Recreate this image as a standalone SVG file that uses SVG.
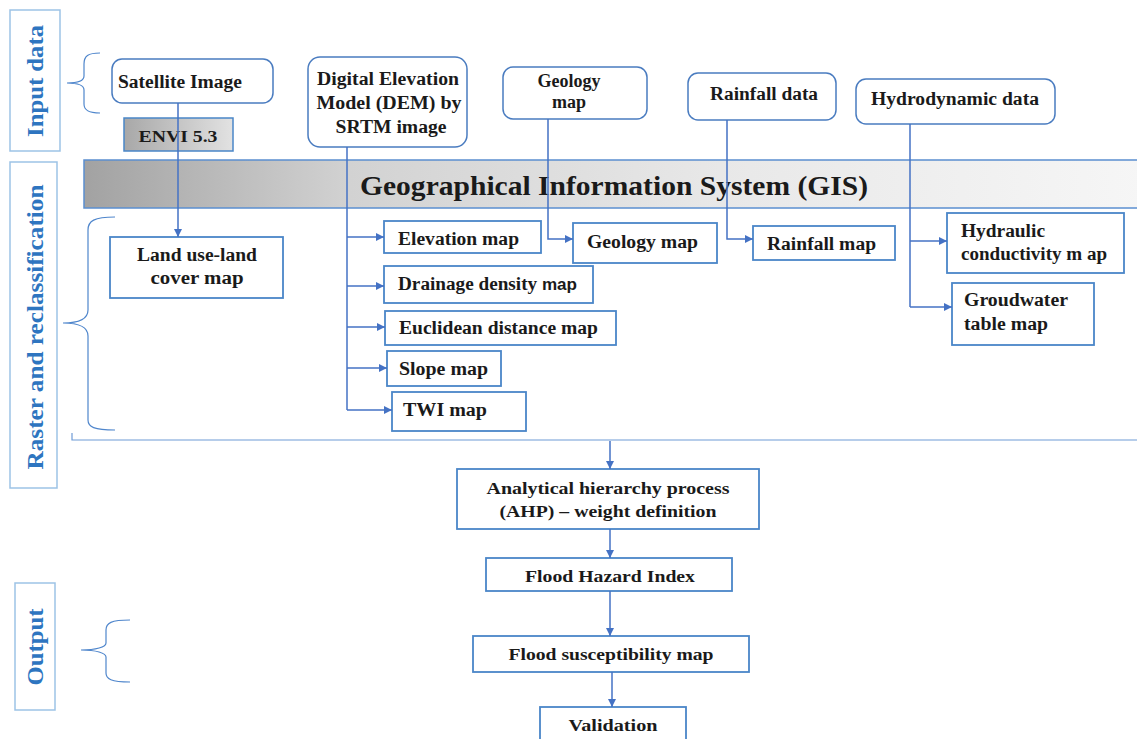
<svg xmlns="http://www.w3.org/2000/svg" width="1137" height="739" viewBox="0 0 1137 739">
<style>
.t{font-family:"Liberation Serif","Times New Roman",serif;font-weight:bold;font-size:18px;fill:#1a1a1a}
.b{font-size:17px}
.side{font-family:"Liberation Serif","Times New Roman",serif;font-weight:bold;font-size:24px;fill:#2e75c0}
.sb{fill:none;stroke:#9dc3e6;stroke-width:1.5}
.rb{fill:#fff;stroke:#4a7cc0;stroke-width:1.5}
.box{fill:#fff;stroke:#4a86c8;stroke-width:1.8}
.br{fill:none;stroke:#4f86cc;stroke-width:1.2}
.c{fill:none;stroke:#4472c4;stroke-width:1.5}
.ca{fill:none;stroke:#4472c4;stroke-width:1.5;marker-end:url(#ah)}
</style>
<defs>
<marker id="ah" viewBox="0 0 10 10" refX="10" refY="5" markerWidth="8" markerHeight="8" markerUnits="userSpaceOnUse" orient="auto">
<path d="M0,0 L10,5 L0,10 z" fill="#4472c4"/>
</marker>
<linearGradient id="gis" x1="0" y1="0" x2="1" y2="0">
<stop offset="0" stop-color="#a2a2a2"/>
<stop offset="0.25" stop-color="#d2d2d2"/>
<stop offset="0.6" stop-color="#e8e8e8"/>
<stop offset="1" stop-color="#f6f6f6"/>
</linearGradient>
<linearGradient id="envi" x1="0" y1="0" x2="1" y2="0">
<stop offset="0" stop-color="#a8a8a8"/>
<stop offset="1" stop-color="#e2e2e2"/>
</linearGradient>
</defs>
<rect width="1137" height="739" fill="#fff"/>

<g id="side-labels">
<rect class="sb" x="10" y="10" width="50" height="141"/>
<text class="side" transform="translate(43,81) rotate(-90)" text-anchor="middle" textLength="112" lengthAdjust="spacingAndGlyphs">Input data</text>
<rect class="sb" x="10" y="162" width="47" height="326"/>
<text class="side" transform="translate(43,327) rotate(-90)" text-anchor="middle" textLength="285" lengthAdjust="spacingAndGlyphs">Raster and reclassification</text>
<rect class="sb" x="15" y="583" width="40" height="127"/>
<text class="side" transform="translate(43,647) rotate(-90)" text-anchor="middle" textLength="77" lengthAdjust="spacingAndGlyphs">Output</text>
<path class="br" d="M100,53 C88,53 84,56 84,64 L84,76 C84,81 78,83 67,83 C78,83 84,85 84,90 L84,104 C84,110 88,113 100,113"/>
<path class="br" d="M115,217 C94,217 88,221 88,230 L88,310 C88,318 80,323 63,323 C80,323 88,328 88,336 L88,420 C88,427 94,430 115,430"/>
<path class="br" d="M130,620 C111,620 106,623 106,630 L106,643 C106,647 96,650 81,650 C96,650 106,653 106,657 L106,673 C106,679 111,682 130,682"/>
</g>

<g id="gis-band">
<rect x="84" y="160" width="1060" height="48" fill="url(#gis)" stroke="#5b8fd0" stroke-width="1.5"/>
<text class="t" x="614" y="195" text-anchor="middle" style="font-size:28px" textLength="508" lengthAdjust="spacingAndGlyphs">Geographical Information System (GIS)</text>
</g>

<g id="node-satellite">
<rect class="rb" x="112" y="59" width="161" height="44" rx="10"/>
<text class="t" x="180" y="88" text-anchor="middle" textLength="124" lengthAdjust="spacingAndGlyphs">Satellite Image</text>
</g>
<g id="node-envi">
<rect x="124" y="118" width="109" height="33" fill="url(#envi)" stroke="#4a86c8" stroke-width="1.5"/>
<text class="t b" x="178" y="142" text-anchor="middle" textLength="79" lengthAdjust="spacingAndGlyphs">ENVI 5.3</text>
</g>
<g id="node-dem">
<rect class="rb" x="308" y="57" width="159" height="90" rx="12"/>
<text class="t" x="388" y="85" text-anchor="middle" textLength="142" lengthAdjust="spacingAndGlyphs">Digital Elevation</text>
<text class="t" x="389" y="109" text-anchor="middle" textLength="145" lengthAdjust="spacingAndGlyphs">Model (DEM) by</text>
<text class="t" x="391" y="133" text-anchor="middle" textLength="111" lengthAdjust="spacingAndGlyphs">SRTM image</text>
</g>
<g id="node-geology-in">
<rect class="rb" x="503" y="67" width="144" height="52" rx="10"/>
<text class="t" x="569" y="87" text-anchor="middle">Geology</text>
<text class="t" x="569" y="108" text-anchor="middle">map</text>
</g>
<g id="node-rainfall-in">
<rect class="rb" x="688" y="73" width="148" height="47" rx="10"/>
<text class="t" x="764" y="100" text-anchor="middle" textLength="108" lengthAdjust="spacingAndGlyphs">Rainfall data</text>
</g>
<g id="node-hydro-in">
<rect class="rb" x="856" y="79" width="199" height="45" rx="10"/>
<text class="t" x="955" y="105" text-anchor="middle" textLength="168" lengthAdjust="spacingAndGlyphs">Hydrodynamic data</text>
</g>

<g id="node-landuse">
<rect class="box" x="110" y="237" width="173" height="61"/>
<text class="t" x="197" y="261" text-anchor="middle" textLength="120" lengthAdjust="spacingAndGlyphs">Land use-land</text>
<text class="t" x="197" y="284" text-anchor="middle" textLength="93" lengthAdjust="spacingAndGlyphs">cover  map</text>
</g>
<g id="node-elevation">
<rect class="box" x="384" y="221" width="157" height="32"/>
<text class="t" x="398" y="245" textLength="121" lengthAdjust="spacingAndGlyphs">Elevation map</text>
</g>
<g id="node-drainage">
<rect class="box" x="384" y="266" width="209" height="37"/>
<text class="t" x="398" y="290" textLength="179" lengthAdjust="spacingAndGlyphs">Drainage density <tspan style="font-family:'Liberation Sans',Arial,sans-serif;font-size:16px">map</tspan></text>
</g>
<g id="node-euclidean">
<rect class="box" x="385" y="311" width="231" height="34"/>
<text class="t" x="399" y="334" textLength="199" lengthAdjust="spacingAndGlyphs">Euclidean distance map</text>
</g>
<g id="node-slope">
<rect class="box" x="387" y="351" width="114" height="35"/>
<text class="t" x="399" y="375" textLength="89" lengthAdjust="spacingAndGlyphs">Slope map</text>
</g>
<g id="node-twi">
<rect class="box" x="392" y="392" width="134" height="39"/>
<text class="t" x="403" y="416" textLength="84" lengthAdjust="spacingAndGlyphs">TWI map</text>
</g>
<g id="node-geology">
<rect class="box" x="573" y="223" width="144" height="40"/>
<text class="t" x="587" y="248" textLength="111" lengthAdjust="spacingAndGlyphs">Geology map</text>
</g>
<g id="node-rainfall">
<rect class="box" x="753" y="226" width="142" height="34"/>
<text class="t" x="767" y="250" textLength="109" lengthAdjust="spacingAndGlyphs">Rainfall map</text>
</g>
<g id="node-hydraulic">
<rect class="box" x="947" y="213" width="177" height="60"/>
<text class="t" x="961" y="237" textLength="84" lengthAdjust="spacingAndGlyphs">Hydraulic</text>
<text class="t" x="961" y="260" textLength="146" lengthAdjust="spacingAndGlyphs">conductivity m ap</text>
</g>
<g id="node-groundwater">
<rect class="box" x="952" y="283" width="142" height="62"/>
<text class="t" x="964" y="306" textLength="104" lengthAdjust="spacingAndGlyphs">Groudwater</text>
<text class="t" x="964" y="330" textLength="84" lengthAdjust="spacingAndGlyphs">table map</text>
</g>

<g id="node-ahp">
<rect class="box" x="457" y="469" width="302" height="60"/>
<text class="t b" x="608" y="494" text-anchor="middle" textLength="243" lengthAdjust="spacingAndGlyphs">Analytical hierarchy process</text>
<text class="t b" x="608" y="517" text-anchor="middle" textLength="217" lengthAdjust="spacingAndGlyphs">(AHP) – weight definition</text>
</g>
<g id="node-fhi">
<rect class="box" x="486" y="558" width="246" height="33"/>
<text class="t b" x="610" y="582" text-anchor="middle" textLength="170" lengthAdjust="spacingAndGlyphs">Flood Hazard Index</text>
</g>
<g id="node-fsm">
<rect class="box" x="473" y="636" width="276" height="36"/>
<text class="t b" x="611" y="660" text-anchor="middle" textLength="205" lengthAdjust="spacingAndGlyphs">Flood susceptibility map</text>
</g>
<g id="node-validation">
<rect class="box" x="540" y="707" width="146" height="40"/>
<text class="t b" x="613" y="731" text-anchor="middle" textLength="89" lengthAdjust="spacingAndGlyphs">Validation</text>
</g>

<g id="connectors">
<path class="ca" d="M178,103 V237"/>
<path class="c" d="M347,147 V410"/>
<path class="ca" d="M347,237 H384"/>
<path class="ca" d="M347,286 H384"/>
<path class="ca" d="M347,327 H385"/>
<path class="ca" d="M347,368 H387"/>
<path class="ca" d="M347,410 H392"/>
<path class="ca" d="M548,119 V239 H573"/>
<path class="ca" d="M727,120 V239 H753"/>
<path class="c" d="M910,124 V307"/>
<path class="ca" d="M910,241 H947"/>
<path class="ca" d="M910,307 H952"/>
<path d="M72,433 V440 H1137" fill="none" stroke="#6f9bd6" stroke-width="1.2"/>
<path class="ca" d="M610,441 V469"/>
<path class="ca" d="M610,529 V558"/>
<path class="ca" d="M610,591 V636"/>
<path class="ca" d="M612,672 V707"/>
</g>
</svg>
